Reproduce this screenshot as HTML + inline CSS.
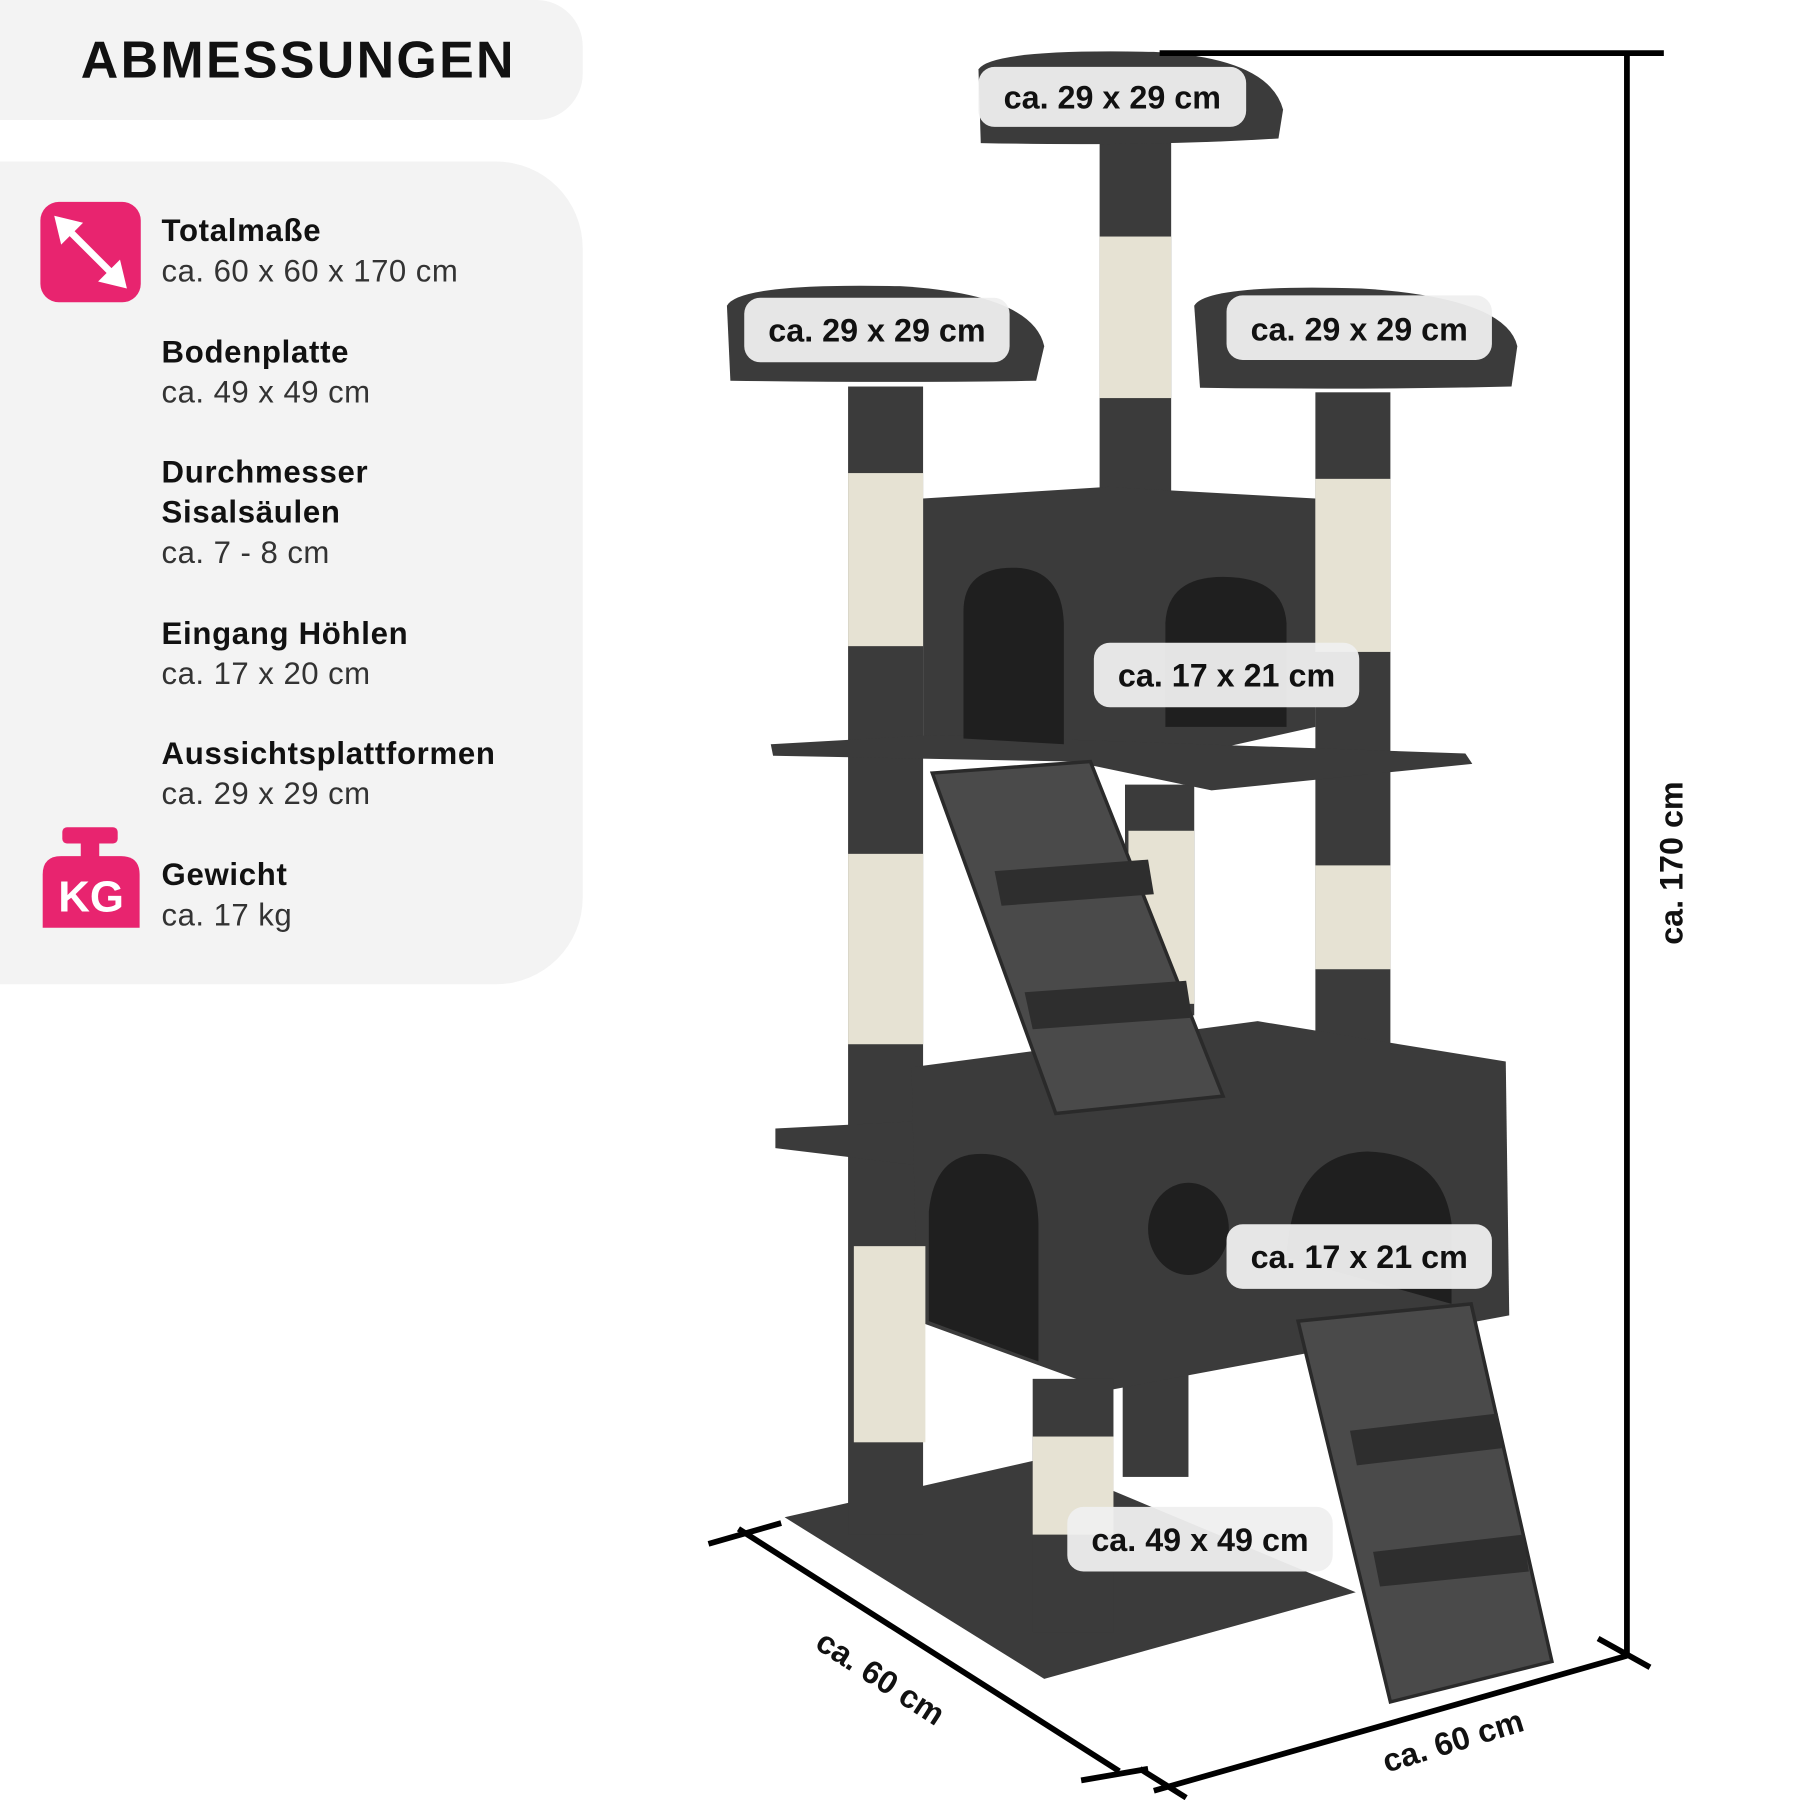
<!DOCTYPE html>
<html><head><meta charset="utf-8"><style>
html,body{margin:0;padding:0;background:#fff;width:1800px;height:1800px;overflow:hidden}
#w{position:absolute;left:0;top:0;width:1560px;height:1560px;transform:scale(1.153846);transform-origin:0 0;font-family:"Liberation Sans",sans-serif}
.p{position:absolute;background:#f3f3f3}
.h{position:absolute;left:140px;font-weight:bold;font-size:27px;color:#111;line-height:35px;letter-spacing:0.6px}
.v{position:absolute;left:140px;font-size:27px;color:#333;line-height:35px;letter-spacing:0.4px}
</style></head><body><div id="w">
<div class="p" style="left:0;top:0;width:505px;height:104px;border-radius:0 40px 40px 0"></div>
<div style="position:absolute;left:70px;top:26px;font-size:45px;font-weight:bold;color:#111;letter-spacing:2px">ABMESSUNGEN</div>
<div class="p" style="left:0;top:140px;width:505px;height:713px;border-radius:0 75px 75px 0"></div>
<svg style="position:absolute;left:0;top:0" width="1560" height="1560" viewBox="0 0 1560 1560">
<rect x="35" y="175" width="87" height="87" rx="16" fill="#e8246f"/>
<line x1="55" y1="195" x2="102" y2="242" stroke="#fff" stroke-width="6"/>
<polygon points="47,187 72,193 53,212" fill="#fff"/><polygon points="110,250 85,244 104,225" fill="#fff"/>
<rect x="54" y="717" width="48" height="14" rx="4" fill="#e8246f"/>
<rect x="70" y="728" width="16" height="16" fill="#e8246f"/>
<path d="M37,804 V758 Q37,742 53,742 H105 Q121,742 121,758 V804 Z" fill="#e8246f"/>
<text x="79" y="790" font-size="38" font-weight="bold" fill="#fff" text-anchor="middle" font-family="Liberation Sans,sans-serif">KG</text>
<g fill="#3b3b3b">
<polygon points="680,1315 900,1265 1175,1380 905,1455"/>
<rect x="975" y="680" width="60" height="200"/>
<rect x="973" y="1190" width="57" height="90"/>
<rect x="953" y="120" width="62" height="320"/>
<rect x="735" y="335" width="65" height="995"/>
<rect x="1140" y="340" width="65" height="575"/>
<path d="M848,60 Q860,42 1000,45 Q1100,50 1112,95 L1108,120 Q1000,127 850,124 Z"/>
<path d="M630,265 Q640,245 780,248 Q895,255 905,300 L898,330 Q780,332 633,330 Z"/>
<path d="M1035,265 Q1045,246 1180,250 Q1305,258 1315,300 L1310,335 Q1180,338 1040,336 Z"/>
<polygon points="800,432 960,422 1140,432 1140,630 1050,650 800,640"/>
<polygon points="668,645 810,637 1270,653 1276,662 1050,685 930,660 670,655"/>
<polygon points="672,978 790,972 795,1010 672,995"/>
<polygon points="790,925 1090,885 1305,920 1308,1140 960,1205 795,1145"/>
<rect x="895" y="1195" width="70" height="220"/>
</g>
<g fill="#e6e2d3">
<rect x="953" y="205" width="62" height="140"/>
<rect x="735" y="410" width="65" height="150"/><rect x="735" y="740" width="65" height="165"/><rect x="740" y="1080" width="62" height="170"/>
<rect x="1140" y="415" width="65" height="150"/><rect x="1140" y="750" width="65" height="90"/>
<rect x="978" y="720" width="57" height="150"/>
<rect x="895" y="1245" width="70" height="85"/>
</g>
<g fill="#1f1f1f">
<path d="M835,640 V530 Q835,492 878,492 Q920,492 922,540 V645 Z"/>
<path d="M1010,630 V540 Q1012,500 1060,500 Q1112,500 1115,540 V630 Z"/>
<path d="M805,1145 V1050 Q810,1000 850,1000 Q898,1000 900,1060 V1180 Z"/>
<path d="M1115,1090 Q1120,1000 1185,998 Q1250,1000 1258,1060 V1130 Z"/>
<ellipse cx="1030" cy="1065" rx="35" ry="40"/>
</g>
<g fill="#4a4a4a" stroke="#2a2a2a" stroke-width="3">
<polygon points="808,670 945,660 1060,950 915,965"/>
<polygon points="1125,1145 1275,1130 1345,1440 1205,1475"/>
</g>
<g fill="#2e2e2e">
<polygon points="862,755 995,745 1000,775 868,785"/>
<polygon points="888,860 1028,850 1033,882 895,892"/>
<polygon points="1170,1240 1298,1225 1302,1255 1176,1270"/>
<polygon points="1190,1345 1320,1330 1325,1362 1196,1375"/>
</g>
<g stroke="#000" stroke-width="5" fill="none">
<line x1="1410" y1="45" x2="1410" y2="1435"/>
<line x1="1005" y1="46" x2="1442" y2="46"/>
<line x1="1000" y1="1552" x2="1410" y2="1435"/>
<line x1="1385" y1="1420" x2="1430" y2="1445"/>
<line x1="640" y1="1325" x2="970" y2="1535"/>
<line x1="614" y1="1338" x2="677" y2="1320"/>
<line x1="937" y1="1543" x2="995" y2="1533"/>
<line x1="988" y1="1533" x2="1028" y2="1558"/>
</g>
<g font-family="Liberation Sans,sans-serif" font-weight="bold" font-size="28" fill="#111">
<rect x="848" y="58" width="232" height="52" rx="14" fill="#efefef" fill-opacity="0.95"/>
<text x="964" y="94" text-anchor="middle">ca. 29 x 29 cm</text>
<rect x="645" y="258" width="230" height="56" rx="14" fill="#efefef" fill-opacity="0.95"/>
<text x="760" y="296" text-anchor="middle">ca. 29 x 29 cm</text>
<rect x="1063" y="256" width="230" height="56" rx="14" fill="#efefef" fill-opacity="0.95"/>
<text x="1178" y="295" text-anchor="middle">ca. 29 x 29 cm</text>
<rect x="948" y="557" width="230" height="56" rx="14" fill="#efefef" fill-opacity="0.95"/>
<text x="1063" y="595" text-anchor="middle">ca. 17 x 21 cm</text>
<rect x="1063" y="1061" width="230" height="56" rx="14" fill="#efefef" fill-opacity="0.95"/>
<text x="1178" y="1099" text-anchor="middle">ca. 17 x 21 cm</text>
<rect x="925" y="1306" width="230" height="56" rx="14" fill="#efefef" fill-opacity="0.95"/>
<text x="1040" y="1344" text-anchor="middle">ca. 49 x 49 cm</text>
<text transform="translate(758,1462) rotate(33)" text-anchor="middle">ca. 60 cm</text>
<text transform="translate(1262,1518) rotate(-17)" text-anchor="middle">ca. 60 cm</text>
<text transform="translate(1458,748) rotate(-90)" text-anchor="middle">ca. 170 cm</text>
</g>
</svg>
<div class="h" style="top:183px">Totalmaße</div><div class="v" style="top:218px">ca. 60 x 60 x 170 cm</div>
<div class="h" style="top:288px">Bodenplatte</div><div class="v" style="top:323px">ca. 49 x 49 cm</div>
<div class="h" style="top:392px">Durchmesser<br>Sisalsäulen</div><div class="v" style="top:462px">ca. 7 - 8 cm</div>
<div class="h" style="top:532px">Eingang Höhlen</div><div class="v" style="top:567px">ca. 17 x 20 cm</div>
<div class="h" style="top:636px">Aussichtsplattformen</div><div class="v" style="top:671px">ca. 29 x 29 cm</div>
<div class="h" style="top:741px">Gewicht</div><div class="v" style="top:776px">ca. 17 kg</div>
</div></body></html>
